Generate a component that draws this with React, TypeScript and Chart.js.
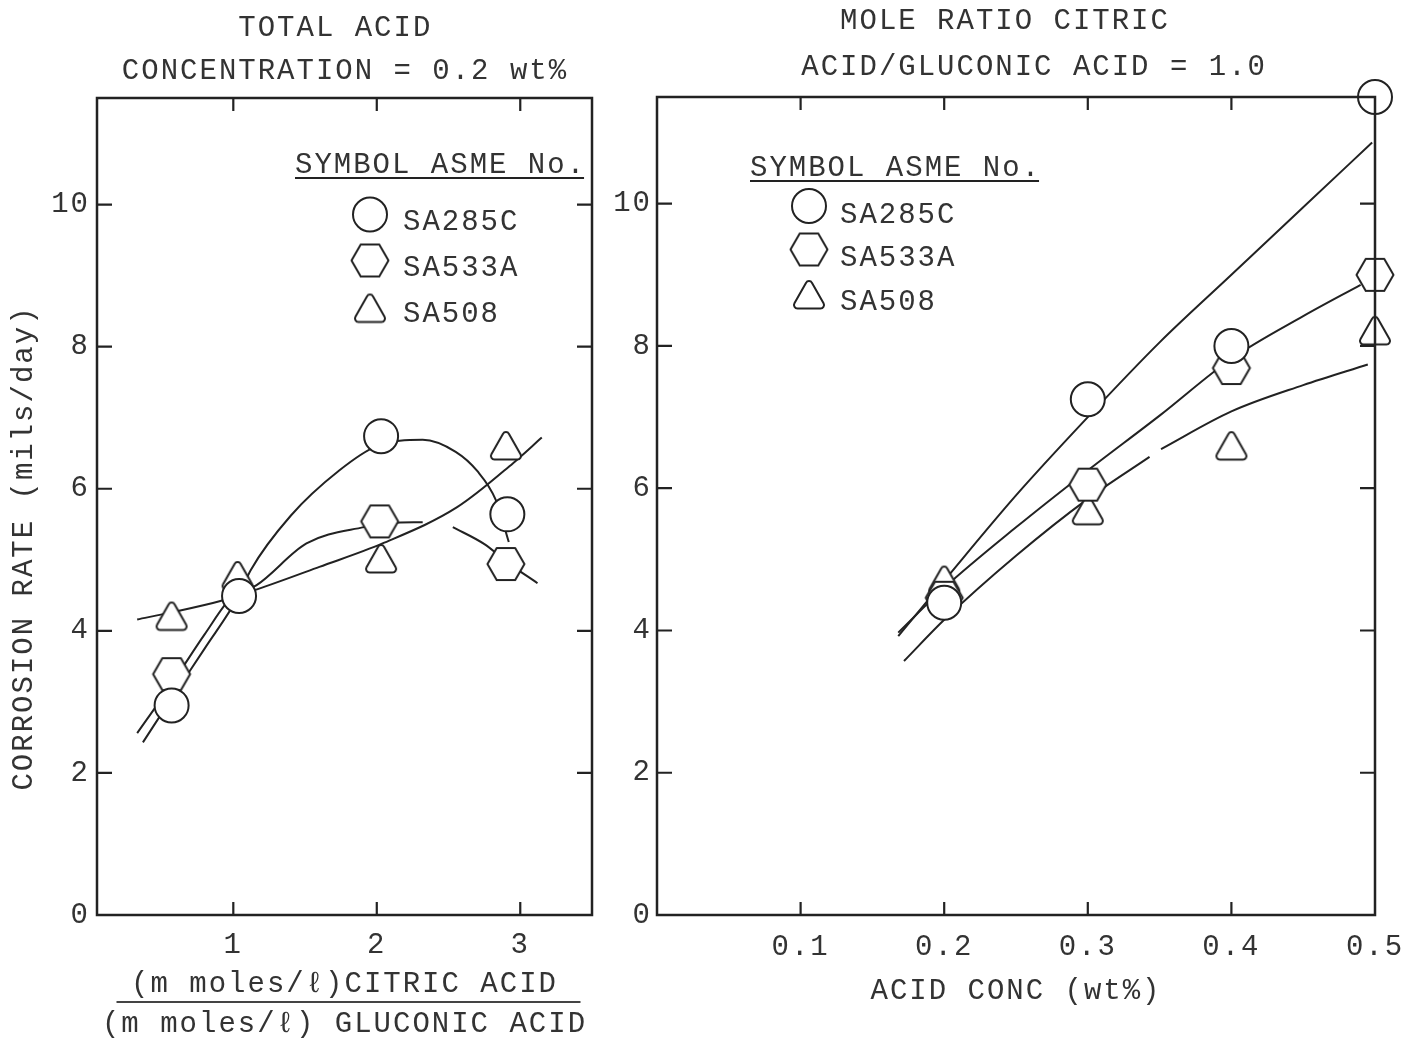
import React, { useEffect, useRef } from "react";
import { Chart, registerables } from "chart.js";

Chart.register(...registerables);

const FONT = "'Liberation Mono', 'DejaVu Sans Mono', monospace";
const INK = "#222";
const TEXT = "#333";
const SPACING = "2px";

// ---------- shared ----------
const seriesNames = ["SA285C", "SA533A", "SA508"];
const legendHeading = "SYMBOL ASME No.";
const yTicks = [0, 2, 4, 6, 8, 10];
const innerYTicks = [2, 4, 6, 8, 10];
const yTitle = "CORROSION RATE (mils/day)";

// ---------- left panel ----------
const leftTitle = "TOTAL ACID ";
const leftSubtitle = "CONCENTRATION = 0.2 wt%";
const leftXTitle = ["(m moles/ℓ)CITRIC ACID", "(m moles/ℓ) GLUCONIC ACID"];
const leftXTicks = [1, 2, 3];

const leftCircleX = [0.57, 1.04, 2.03, 2.91];
const leftCircleY = [2.95, 4.49, 6.74, 5.64];
const leftHexX = [0.57, 2.02, 2.9];
const leftHexY = [3.39, 5.54, 4.94];
const leftTriX = [0.57, 1.03, 2.03, 2.9];
const leftTriY = [4.23, 4.8, 5.04, 6.63];

const fitL285X = [0.37, 0.57, 0.8, 1.04, 1.12, 1.4, 1.74, 2.0, 2.32, 2.55, 2.7, 2.83, 2.92];
const fitL285Y = [2.43, 3.05, 3.75, 4.5, 4.85, 5.62, 6.26, 6.6, 6.69, 6.52, 6.25, 5.84, 5.25];
const fitL533aX = [0.33, 0.57, 0.8, 1.0, 1.16, 1.51, 1.91, 2.1, 2.32];
const fitL533aY = [2.56, 3.25, 3.95, 4.5, 4.64, 5.23, 5.46, 5.52, 5.53];
const fitL533bX = [2.53, 2.75, 2.92, 3.12];
const fitL533bY = [5.46, 5.22, 4.95, 4.67];
const fitL508X = [0.33, 0.57, 0.91, 1.16, 1.6, 2.04, 2.56, 2.95, 3.15];
const fitL508Y = [4.16, 4.26, 4.42, 4.58, 4.9, 5.23, 5.74, 6.36, 6.72];

// ---------- right panel ----------
const rightTitle = "MOLE RATIO CITRIC";
const rightSubtitle = "   ACID/GLUCONIC ACID = 1.0";
const rightXTitle = "ACID CONC (wt%)";
const rightXTicks = [0.1, 0.2, 0.3, 0.4, 0.5];
const rightInnerXTicks = [0.1, 0.2, 0.3, 0.4];

const rightCircleX = [0.2, 0.3, 0.4, 0.5];
const rightCircleY = [4.39, 7.25, 8.0, 11.5];
const rightHexX = [0.2, 0.3, 0.4, 0.5];
const rightHexY = [4.46, 6.05, 7.69, 9.0];
const rightTriX = [0.2, 0.3, 0.4, 0.5];
const rightTriY = [4.73, 5.71, 6.62, 8.24];

const fitR285X = [0.168, 0.2, 0.25, 0.3, 0.35, 0.4, 0.45, 0.498];
const fitR285Y = [3.92, 4.7, 5.9, 7.0, 8.05, 9.0, 9.95, 10.86];
const fitR533X = [0.168, 0.2, 0.25, 0.3, 0.35, 0.4, 0.45, 0.49];
const fitR533Y = [3.97, 4.6, 5.45, 6.25, 7.02, 7.82, 8.42, 8.86];
const fitR508aX = [0.172, 0.2, 0.25, 0.3, 0.343];
const fitR508aY = [3.57, 4.15, 5.05, 5.85, 6.44];
const fitR508bX = [0.351, 0.4, 0.45, 0.495];
const fitR508bY = [6.55, 7.08, 7.45, 7.74];

// ---------- helpers ----------
const xy = (xs: number[], ys: number[]) => xs.map((x, i) => ({ x, y: ys[i] }));

function hexImage(): HTMLCanvasElement {
  const R = 18.5, lw = 2;
  const c = document.createElement("canvas");
  c.width = 42;
  c.height = 36;
  const g = c.getContext("2d")!;
  const cx = c.width / 2, cy = c.height / 2, h = (Math.sqrt(3) / 2) * R;
  g.beginPath();
  g.moveTo(cx - R, cy);
  g.lineTo(cx - R / 2, cy - h);
  g.lineTo(cx + R / 2, cy - h);
  g.lineTo(cx + R, cy);
  g.lineTo(cx + R / 2, cy + h);
  g.lineTo(cx - R / 2, cy + h);
  g.closePath();
  g.fillStyle = "#fff";
  g.fill();
  g.lineJoin = "round";
  g.lineWidth = lw;
  g.strokeStyle = INK;
  g.stroke();
  return c;
}

function triImage(): HTMLCanvasElement {
  const W = 35, H = 31, r = 3.5;
  const c = document.createElement("canvas");
  c.width = 40;
  c.height = 36;
  const g = c.getContext("2d")!;
  const cx = c.width / 2, top = (c.height - H) / 2, bot = top + H;
  const p = [[cx, top], [cx + W / 2, bot], [cx - W / 2, bot]];
  g.beginPath();
  g.moveTo((p[2][0] + p[0][0]) / 2, (p[2][1] + p[0][1]) / 2);
  g.arcTo(p[0][0], p[0][1], p[1][0], p[1][1], r);
  g.arcTo(p[1][0], p[1][1], p[2][0], p[2][1], r);
  g.arcTo(p[2][0], p[2][1], p[0][0], p[0][1], r);
  g.closePath();
  g.fillStyle = "#fff";
  g.fill();
  g.lineJoin = "round";
  g.lineWidth = 2;
  g.strokeStyle = INK;
  g.stroke();
  return c;
}

function drawMarker(ctx: CanvasRenderingContext2D, style: any, x: number, y: number, r: number) {
  if (style === "circle") {
    ctx.beginPath();
    ctx.arc(x, y, r, 0, Math.PI * 2);
    ctx.fillStyle = "#fff";
    ctx.fill();
    ctx.lineWidth = 2;
    ctx.strokeStyle = INK;
    ctx.stroke();
  } else {
    ctx.drawImage(style, x - style.width / 2, y - style.height / 2);
  }
}

const spacingPlugin = {
  id: "spacing",
  beforeLayout(chart: any) {
    chart.ctx.letterSpacing = SPACING;
  },
  beforeDraw(chart: any) {
    chart.ctx.letterSpacing = SPACING;
  },
};

const framePlugin = {
  id: "frame",
  afterDatasetsDraw(chart: any, _a: any, o: any) {
    const { ctx, chartArea: a, scales } = chart;
    const x = scales.x, y = scales.y;
    ctx.save();
    ctx.strokeStyle = INK;
    ctx.lineWidth = 2.5;
    ctx.lineCap = "square";
    ctx.strokeRect(a.left, a.top, a.right - a.left, a.bottom - a.top);
    ctx.lineWidth = 2.2;
    ctx.lineCap = "butt";
    ctx.beginPath();
    for (const v of o.xTicks) {
      const px = x.getPixelForValue(v);
      ctx.moveTo(px, a.bottom);
      ctx.lineTo(px, a.bottom - o.tickLen);
      ctx.moveTo(px, a.top);
      ctx.lineTo(px, a.top + o.tickLen);
    }
    for (const v of o.yTicks) {
      const py = y.getPixelForValue(v);
      ctx.moveTo(a.left, py);
      ctx.lineTo(a.left + o.tickLen + 2, py);
      ctx.moveTo(a.right, py);
      ctx.lineTo(a.right - o.tickLen - 2, py);
    }
    ctx.stroke();
    ctx.restore();
  },
};

const decorPlugin = {
  id: "decor",
  afterDraw(chart: any, _a: any, o: any) {
    const { ctx, chartArea: a } = chart;
    ctx.save();
    ctx.letterSpacing = SPACING;
    ctx.font = `29px ${FONT}`;
    ctx.fillStyle = TEXT;
    if (o.yTitle) {
      ctx.save();
      ctx.translate(a.left + o.yTitle.dx, a.top + o.yTitle.dy);
      ctx.rotate(-Math.PI / 2);
      ctx.textAlign = "center";
      ctx.textBaseline = "middle";
      ctx.fillText(o.yTitle.text, 0, 0);
      ctx.restore();
    }
    if (o.rule) {
      const cx = (a.left + a.right) / 2 + o.rule.dx;
      ctx.strokeStyle = "#444";
      ctx.lineWidth = 2.2;
      ctx.beginPath();
      ctx.moveTo(cx - o.rule.half, a.bottom + o.rule.dy);
      ctx.lineTo(cx + o.rule.half, a.bottom + o.rule.dy);
      ctx.stroke();
    }
    const L = o.legend;
    if (L) {
      ctx.textAlign = "left";
      ctx.textBaseline = "middle";
      const hx = a.left + L.headX, hy = a.top + L.headY;
      ctx.fillText(legendHeading, hx, hy);
      const w = ctx.measureText(legendHeading).width - 2;
      ctx.strokeStyle = INK;
      ctx.lineWidth = 2.2;
      ctx.beginPath();
      ctx.moveTo(hx, hy + 13);
      ctx.lineTo(hx + w, hy + 13);
      ctx.stroke();
      const marks = chart.data.datasets.filter((d: any) => d.legendItem);
      marks.forEach((d: any, i: number) => {
        const my = a.top + L.firstY + i * L.step;
        drawMarker(ctx, d.pointStyle, a.left + L.markX, my, d.pointRadius);
        ctx.fillStyle = TEXT;
        ctx.fillText(d.label, a.left + L.textX, my + L.textDy);
      });
    }
    ctx.restore();
  },
};

function curve(label: string, xs: number[], ys: number[]) {
  return {
    label,
    data: xy(xs, ys),
    showLine: true,
    borderColor: INK,
    borderWidth: 2,
    pointRadius: 0,
    cubicInterpolationMode: "monotone",
    fill: false,
    order: 10,
  };
}

function markers(label: string, xs: number[], ys: number[], style: any, radius: number, order: number) {
  return {
    label,
    data: xy(xs, ys),
    showLine: false,
    pointStyle: style,
    pointRadius: radius,
    pointBorderWidth: 2,
    pointBorderColor: INK,
    pointBackgroundColor: "#fff",
    borderColor: INK,
    backgroundColor: "#fff",
    clip: false,
    order,
    legendItem: true,
  };
}

const tickFont = { family: FONT, size: 29 };

function baseOptions(p: any) {
  return {
    responsive: false,
    animation: false,
    devicePixelRatio: 1,
    events: [],
    layout: { padding: 0 },
    plugins: {
      legend: { display: false },
      tooltip: { enabled: false },
      title: {
        display: true,
        text: p.title,
        color: TEXT,
        font: { family: FONT, size: 29, weight: "normal", lineHeight: 1.2 },
        padding: { top: p.titlePad[0], bottom: p.titlePad[1] },
      },
      subtitle: {
        display: true,
        text: p.subtitle,
        color: TEXT,
        font: { family: FONT, size: 29, weight: "normal", lineHeight: 1.2 },
        padding: { top: p.subPad[0], bottom: p.subPad[1] },
      },
      frame: { xTicks: p.innerX, yTicks: innerYTicks, tickLen: 13 },
      decor: { yTitle: p.yTitle, rule: p.rule, legend: p.legend },
    },
    scales: {
      x: {
        type: "linear",
        min: p.xMin,
        max: p.xMax,
        afterBuildTicks: (s: any) => {
          s.ticks = p.xTicks.map((v: number) => ({ value: v }));
        },
        afterFit: (s: any) => {
          s.height = 124;
          s.paddingLeft = 0;
          s.paddingRight = 0;
        },
        grid: { display: false, drawTicks: false },
        border: { display: false },
        ticks: {
          padding: p.xTickPad,
          font: tickFont,
          color: TEXT,
          maxRotation: 0,
          minRotation: 0,
          autoSkip: false,
          callback: p.xFmt,
        },
        title: {
          display: true,
          text: p.xTitle,
          color: TEXT,
          font: { family: FONT, size: 29, lineHeight: p.xTitleLH },
          padding: { top: 0, bottom: p.xTitlePad },
        },
      },
      y: {
        type: "linear",
        position: "left",
        min: 0,
        max: 11.5,
        afterBuildTicks: (s: any) => {
          s.ticks = yTicks.map((v) => ({ value: v }));
        },
        afterFit: (s: any) => {
          s.width = p.yWidth;
          s.paddingTop = 0;
          s.paddingBottom = 0;
        },
        grid: { display: false, drawTicks: false },
        border: { display: false },
        ticks: { padding: p.yTickPad, font: tickFont, color: TEXT, callback: (v: any) => String(v) },
      },
      // empty right-hand box that only reserves the margin right of the plot
      margin: {
        type: "linear",
        position: "right",
        display: true,
        min: 0,
        max: 1,
        afterFit: (s: any) => {
          s.width = p.rightMargin;
          s.paddingTop = 0;
          s.paddingBottom = 0;
        },
        grid: { display: false, drawTicks: false },
        border: { display: false },
        ticks: { display: false },
      },
    },
  };
}

function leftConfig(hex: HTMLCanvasElement, tri: HTMLCanvasElement): any {
  return {
    type: "scatter",
    data: {
      datasets: [
        markers(seriesNames[0], leftCircleX, leftCircleY, "circle", 17, 1),
        markers(seriesNames[1], leftHexX, leftHexY, hex, 18, 2),
        markers(seriesNames[2], leftTriX, leftTriY, tri, 18, 3),
        curve("SA285C fit", fitL285X, fitL285Y),
        curve("SA533A fit (rising)", fitL533aX, fitL533aY),
        curve("SA533A fit (falling)", fitL533bX, fitL533bY),
        curve("SA508 fit", fitL508X, fitL508Y),
      ],
    },
    options: baseOptions({
      rightMargin: 98,
      title: leftTitle,
      subtitle: leftSubtitle,
      titlePad: [11.4, 0],
      subPad: [8.2, 8.8],
      innerX: leftXTicks,
      xTicks: leftXTicks,
      xMin: 0.05,
      xMax: 3.5,
      xTickPad: 13.4,
      xFmt: (v: any) => String(v),
      xTitle: leftXTitle,
      xTitleLH: 40 / 29,
      xTitlePad: -5,
      yWidth: 97,
      yTickPad: 7,
      yTitle: { text: yTitle, dx: -73, dy: 450 },
      rule: { dx: 4, dy: 87, half: 232 },
      legend: { headX: 198, headY: 67, markX: 273, textX: 306, firstY: 116.5, step: 46, textDy: 8 },
    }),
    plugins: [spacingPlugin, framePlugin, decorPlugin],
  };
}

function rightConfig(hex: HTMLCanvasElement, tri: HTMLCanvasElement): any {
  return {
    type: "scatter",
    data: {
      datasets: [
        markers(seriesNames[0], rightCircleX, rightCircleY, "circle", 17, 1),
        markers(seriesNames[1], rightHexX, rightHexY, hex, 18, 2),
        markers(seriesNames[2], rightTriX, rightTriY, tri, 18, 3),
        curve("SA285C fit", fitR285X, fitR285Y),
        curve("SA533A fit", fitR533X, fitR533Y),
        curve("SA508 fit (a)", fitR508aX, fitR508aY),
        curve("SA508 fit (b)", fitR508bX, fitR508bY),
      ],
    },
    options: baseOptions({
      rightMargin: 30,
      title: rightTitle,
      subtitle: rightSubtitle,
      titlePad: [4.4, 0],
      subPad: [11.2, 11.8],
      innerX: rightInnerXTicks,
      xTicks: rightXTicks,
      xMin: 0,
      xMax: 0.5,
      xTickPad: 15,
      xFmt: (v: any) => Number(v).toFixed(1),
      xTitle: rightXTitle,
      xTitleLH: 1.2,
      xTitlePad: 30,
      yWidth: 52,
      yTickPad: 5,
      yTitle: null,
      rule: null,
      legend: { headX: 93, headY: 71, markX: 152, textX: 183, firstY: 109, step: 43.5, textDy: 9 },
    }),
    plugins: [spacingPlugin, framePlugin, decorPlugin],
  };
}

export default function App() {
  const leftRef = useRef<HTMLCanvasElement>(null);
  const rightRef = useRef<HTMLCanvasElement>(null);

  useEffect(() => {
    Chart.defaults.font.family = FONT;
    const hex = hexImage();
    const tri = triImage();
    const c1 = new Chart(leftRef.current!, leftConfig(hex, tri));
    const c2 = new Chart(rightRef.current!, rightConfig(hex, tri));
    return () => {
      c1.destroy();
      c2.destroy();
    };
  }, []);

  return (
    <div
      style={{
        position: "absolute",
        left: 0,
        top: 0,
        width: 1403,
        height: 1039,
        overflow: "hidden",
        background: "#fff",
      }}
    >
      <div style={{ position: "absolute", left: 0, top: 0, width: 690, height: 1039 }}>
        <canvas ref={leftRef} width={690} height={1039} style={{ width: 690, height: 1039, display: "block" }} />
      </div>
      <div style={{ position: "absolute", left: 605, top: 0, width: 800, height: 1039 }}>
        <canvas ref={rightRef} width={800} height={1039} style={{ width: 800, height: 1039, display: "block" }} />
      </div>
    </div>
  );
}
